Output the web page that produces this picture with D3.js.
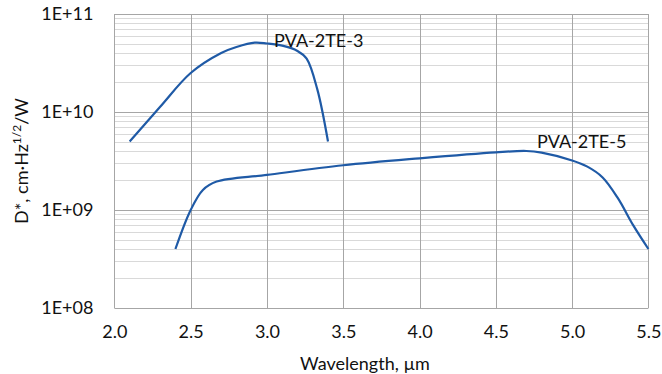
<!DOCTYPE html>
<html>
<head>
<meta charset="utf-8">
<script src="https://cdn.jsdelivr.net/npm/d3@7"></script>
<style>
  html, body { margin: 0; padding: 0; background: #fff; }
  svg { display: block; }
  text { font-family: Lato, "Open Sans", sans-serif; fill: #111; }
</style>
</head>
<body>
<svg id="chart" width="662" height="374"></svg>
<script>
// ---- data ----
const xTicks = [2.0, 2.5, 3.0, 3.5, 4.0, 4.5, 5.0, 5.5];
const yTicks = [1e8, 1e9, 1e10, 1e11];
const yTickLabels = ["1E+08", "1E+09", "1E+10", "1E+11"];

const seriesNames = ["PVA-2TE-3", "PVA-2TE-5"];
const wl3 = [2.1, 2.3, 2.5, 2.7, 2.8, 2.92, 3.0, 3.1, 3.2, 3.26, 3.33, 3.4];
const d3v = [5.0e9, 1.13e10, 2.5e10, 4.0e10, 4.6e10, 5.1e10, 5.0e10, 4.75e10, 4.2e10, 3.5e10, 1.7e10, 5.0e9];
const wl5 = [2.4, 2.5, 2.58, 2.67, 3.0, 3.5, 4.0, 4.5, 4.7, 4.8, 5.0, 5.1, 5.2, 5.3, 5.4, 5.5];
const d5v = [4.0e8, 1.0e9, 1.6e9, 1.95e9, 2.28e9, 2.86e9, 3.37e9, 3.88e9, 4.0e9, 3.85e9, 3.2e9, 2.77e9, 2.15e9, 1.32e9, 7.0e8, 4.0e8];

// ---- layout ----
const svg = d3.select("#chart");
const L = 114.4, R = 648.4, T = 14, B = 308;

const x = d3.scaleLinear().domain([2.0, 5.5]).range([L, R]);
const y = d3.scaleLog().domain([1e8, 1e11]).range([B, T]);

// minor horizontal grid
const minor = [];
for (let e = 8; e < 11; e++) for (let m = 2; m <= 9; m++) minor.push(m * Math.pow(10, e));
svg.append("g").selectAll("line").data(minor).join("line")
  .attr("x1", L).attr("x2", R)
  .attr("y1", d => Math.round(y(d)) + 0.5).attr("y2", d => Math.round(y(d)) + 0.5)
  .attr("stroke", "#d9d9d9").attr("stroke-width", 1);

// major vertical grid
svg.append("g").selectAll("line").data(xTicks).join("line")
  .attr("x1", d => Math.round(x(d)) + 0.5).attr("x2", d => Math.round(x(d)) + 0.5)
  .attr("y1", T).attr("y2", B)
  .attr("stroke", "#a6a6a6").attr("stroke-width", 1);

// major horizontal grid
svg.append("g").selectAll("line").data(yTicks).join("line")
  .attr("x1", L).attr("x2", R)
  .attr("y1", d => Math.round(y(d)) + 0.5).attr("y2", d => Math.round(y(d)) + 0.5)
  .attr("stroke", "#a6a6a6").attr("stroke-width", 1);

// axes labels via d3 axes (no domain/ticks)
const xAxis = svg.append("g").attr("transform", `translate(0,${B})`)
  .call(d3.axisBottom(x).tickValues(xTicks).tickFormat(d3.format(".1f")).tickSize(0).tickPadding(17));
xAxis.select(".domain").remove();
xAxis.selectAll("text").style("font-family", "Lato, sans-serif").style("font-size", "18px").attr("fill", "#111");

const yAxis = svg.append("g").attr("transform", `translate(${L},0)`)
  .call(d3.axisLeft(y).tickValues(yTicks).tickFormat((d, i) => yTickLabels[i]).tickSize(0).tickPadding(21));
yAxis.select(".domain").remove();
yAxis.selectAll("text").style("font-family", "Lato, sans-serif").style("font-size", "18px").attr("fill", "#111");

// lines
const line = d3.line().x(d => x(d[0])).y(d => y(d[1])).curve(d3.curveCatmullRom.alpha(0.5));
const s3 = wl3.map((w, i) => [w, d3v[i]]);
const s5 = wl5.map((w, i) => [w, d5v[i]]);
[s3, s5].forEach(s => {
  svg.append("path").datum(s).attr("d", line)
    .attr("fill", "none").attr("stroke", "#1f5aa6").attr("stroke-width", 2.2)
    .attr("stroke-linejoin", "round").attr("stroke-linecap", "butt");
});

// series labels
svg.append("text").attr("x", 274).attr("y", 47).style("font-size", "18px").text(seriesNames[0]);
svg.append("text").attr("x", 537).attr("y", 148).style("font-size", "18px").text(seriesNames[1]);

// axis titles
svg.append("text").attr("x", 365).attr("y", 370).attr("text-anchor", "middle")
  .style("font-size", "18px").text("Wavelength, µm");

const yt = svg.append("text").attr("transform", `translate(28,${(T + B) / 2}) rotate(-90)`)
  .attr("text-anchor", "middle").style("font-size", "18px");
yt.append("tspan").text("D*, cm·Hz");
yt.append("tspan").attr("dy", -7).style("font-size", "12px").text("1/2");
yt.append("tspan").attr("dy", 7).text("/W");
</script>
</body>
</html>
